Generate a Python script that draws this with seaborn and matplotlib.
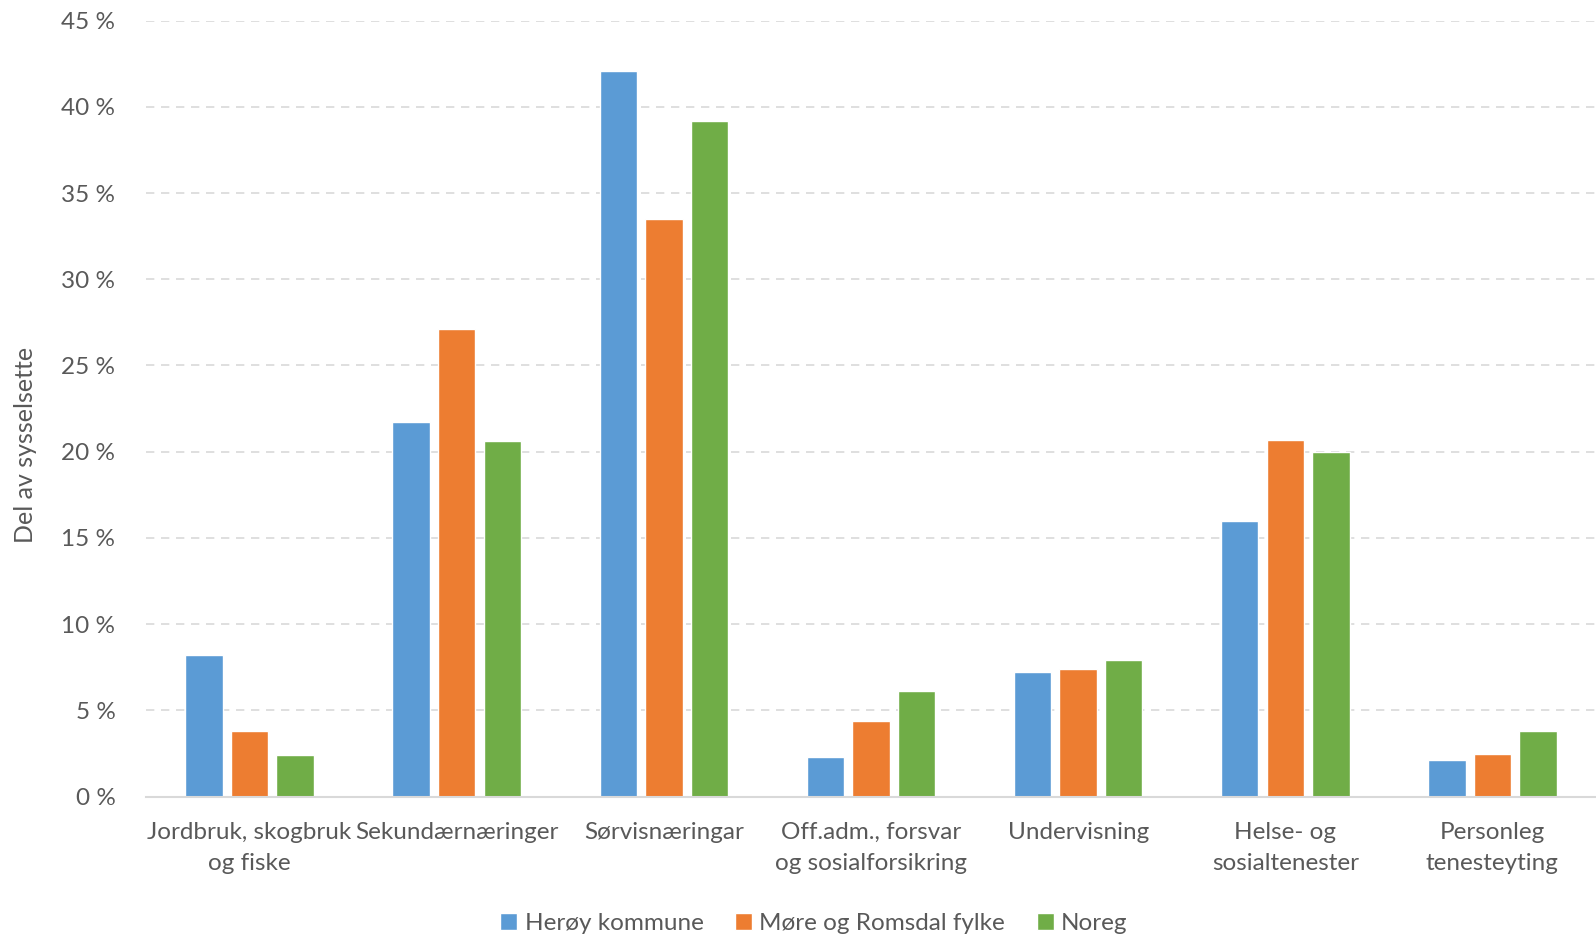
import pandas as pd
import matplotlib.pyplot as plt
import seaborn as sns

# 데이터
naeringar = ['Jordbruk, skogbruk\nog fiske', 'Sekundærnæringer', 'Sørvisnæringar',
             'Off.adm., forsvar\nog sosialforsikring', 'Undervisning',
             'Helse- og\nsosialtenester', 'Personleg\ntenesteyting']
heroy = [8.2, 21.7, 42.1, 2.3, 7.2, 16.0, 2.1]
more_romsdal = [3.8, 27.1, 33.5, 4.4, 7.4, 20.7, 2.5]
noreg = [2.4, 20.6, 39.2, 6.1, 7.9, 20.0, 3.8]
serie_namn = ['Herøy kommune', 'Møre og Romsdal fylke', 'Noreg']
yticks = [0, 5, 10, 15, 20, 25, 30, 35, 40, 45]

df = pd.DataFrame({
    'naering': naeringar * 3,
    'serie': [s for s in serie_namn for _ in naeringar],
    'verdi': heroy + more_romsdal + noreg,
})

sns.set_theme(style='white')
plt.rcParams['font.family'] = ['Lato', 'DejaVu Sans']
tekstfarge = '#595959'

fig = plt.figure(figsize=(15.96, 9.35), dpi=100)
ax = fig.add_axes([0.0915, 0.148, 0.9085, 0.83])

palett = ['#5B9BD5', '#ED7D31', '#70AD47']
sns.barplot(data=df, x='naering', y='verdi', hue='serie', palette=palett,
            width=0.66, gap=0.18, saturation=1, ax=ax, legend=True)

ax.set_xlim(-0.5, 6.5)
ax.set_ylim(0, 45)
ax.set_yticks(yticks)
ax.set_yticklabels([f'{v} %' for v in yticks])
ax.yaxis.grid(True, linestyle=(0, (5, 4)), color='#D9D9D9', linewidth=1.2)
ax.set_axisbelow(True)
for s in ['top', 'right', 'left']:
    ax.spines[s].set_visible(False)
ax.spines['bottom'].set_color('#D9D9D9')
ax.spines['bottom'].set_linewidth(1.5)

ax.tick_params(axis='both', length=0, labelsize=17.5, colors=tekstfarge)
ax.tick_params(axis='x', pad=18)
ax.tick_params(axis='y', pad=22)
for t in ax.get_xticklabels():
    t.set_linespacing(1.6)
ax.set_xlabel('')
ax.set_ylabel('Del av sysselsette', fontsize=18, color=tekstfarge)
ax.yaxis.set_label_coords(-0.075, 0.453)

handles, labels = ax.get_legend_handles_labels()
leg = fig.legend(handles, labels, loc='lower center', bbox_to_anchor=(0.51, -0.022),
                 ncol=3, frameon=False, fontsize=17.5, handlelength=0.7,
                 handleheight=0.7, handletextpad=0.3, columnspacing=1.3)
for t in leg.get_texts():
    t.set_color(tekstfarge)
ax.get_legend().remove()

plt.savefig('out.png', dpi=100)
plt.close()
